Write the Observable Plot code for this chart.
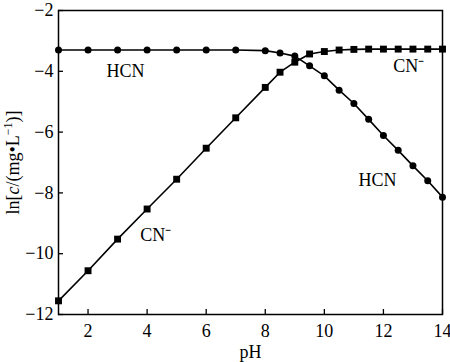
<!DOCTYPE html>
<html>
<head>
<meta charset="utf-8">
<script src="https://cdn.jsdelivr.net/npm/d3@7"></script>
<script src="https://cdn.jsdelivr.net/npm/@observablehq/plot@0.6"></script>
<style>
  html, body { margin: 0; padding: 0; background: white; }
</style>
</head>
<body>
<div id="chart"></div>
<script>
const pH = [1, 2, 3, 4, 5, 6, 7, 8, 8.5, 9, 9.5, 10, 10.5, 11, 11.5, 12, 12.5, 13, 13.5, 14];
const hcnValues = [-3.3, -3.3, -3.3, -3.3, -3.3, -3.3, -3.3, -3.32, -3.40, -3.50, -3.82, -4.15, -4.62, -5.06, -5.58, -6.11, -6.60, -7.11, -7.60, -8.14];
const cnValues = [-11.55, -10.56, -9.52, -8.53, -7.55, -6.53, -5.53, -4.53, -4.03, -3.70, -3.43, -3.35, -3.30, -3.28, -3.27, -3.27, -3.27, -3.27, -3.27, -3.27];
const xTicks = [2, 4, 6, 8, 10, 12, 14];
const yTicks = [-2, -4, -6, -8, -10, -12];
const seriesLabels = [
  {text: "HCN", x: 3.27, y: -4.0},
  {text: "CN\u207B", x: 12.86, y: -3.83},
  {text: "CN\u207B", x: 4.29, y: -9.39},
  {text: "HCN", x: 11.8, y: -7.59}
];

const hcn = pH.map((p, i) => ({pH: p, v: hcnValues[i]}));
const cn = pH.map((p, i) => ({pH: p, v: cnValues[i]}));

const font = "'Liberation Serif', 'Times New Roman', serif";

const chart = Plot.plot({
  width: 450,
  height: 362,
  marginLeft: 58,
  marginRight: 8,
  marginTop: 10,
  marginBottom: 48,
  style: {fontFamily: font, fontSize: "18px", background: "white", color: "black", overflow: "visible"},
  x: {domain: [1, 14]},
  y: {domain: [-12, -2]},
  marks: [
    Plot.axisX({ticks: xTicks, tickSize: -5, tickPadding: 15, strokeWidth: 1.3, label: "pH", labelAnchor: "center", labelArrow: "none", labelOffset: 43}),
    Plot.axisY({ticks: yTicks, tickSize: -5, tickPadding: 10, strokeWidth: 1.3, label: "ln[c/(mg\u2022L\u22121)]", labelAnchor: "center", labelArrow: "none", labelOffset: 52}),
    Plot.frame({stroke: "black", strokeWidth: 1.5}),
    Plot.line(hcn, {x: "pH", y: "v", stroke: "black", strokeWidth: 1.6}),
    Plot.line(cn, {x: "pH", y: "v", stroke: "black", strokeWidth: 1.6}),
    Plot.dot(hcn, {x: "pH", y: "v", r: 3.5, fill: "black", symbol: "circle"}),
    Plot.dot(cn, {x: "pH", y: "v", r: 3.9, fill: "black", symbol: "square"}),
    Plot.text(seriesLabels, {x: "x", y: "y", text: "text", fontSize: 18, fill: "black"})
  ]
});

document.getElementById("chart").appendChild(chart);

// italic "c" and superscript "−1" in the y-axis label
const ylab = chart.querySelector('g[aria-label="y-axis label"] text');
if (ylab) {
  const NS = "http://www.w3.org/2000/svg";
  const parts = [
    {t: "ln["},
    {t: "c", italic: true},
    {t: "/(mg\u2022L"},
    {t: "\u22121", sup: true},
    {t: ")]", after: true}
  ];
  ylab.textContent = "";
  for (const p of parts) {
    const ts = document.createElementNS(NS, "tspan");
    ts.textContent = p.t;
    if (p.italic) ts.setAttribute("font-style", "italic");
    if (p.sup) { ts.setAttribute("font-size", "12px"); ts.setAttribute("dy", "-7"); }
    if (p.after) ts.setAttribute("dy", "7");
    ylab.appendChild(ts);
  }
}
</script>
</body>
</html>
